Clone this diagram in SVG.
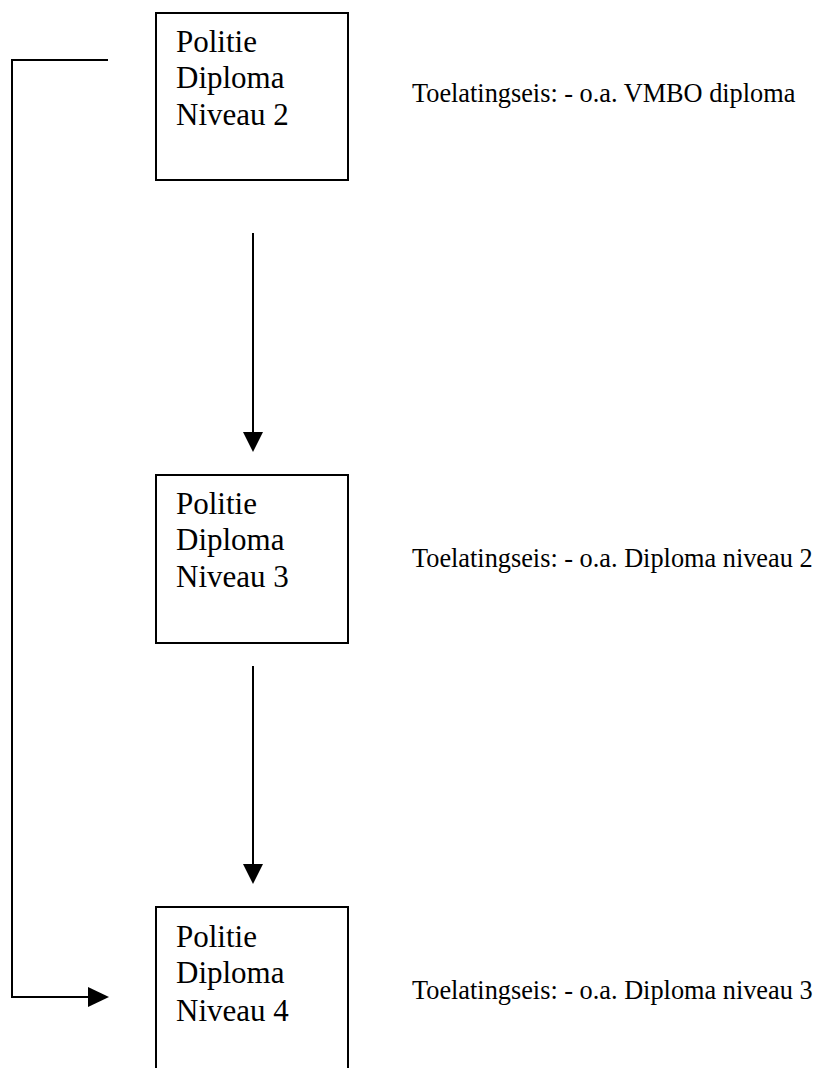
<svg xmlns="http://www.w3.org/2000/svg" width="821" height="1068" viewBox="0 0 821 1068">
<style>
.box{fill:#fff;stroke:#000;stroke-width:2}
.t{font-family:"Liberation Serif","Times New Roman",serif;font-size:31px;fill:#000}
.l{font-family:"Liberation Serif","Times New Roman",serif;font-size:26.3px;fill:#000}
.c{fill:none;stroke:#000;stroke-width:2}
.h{fill:#000;stroke:none}
</style>
<rect width="821" height="1068" fill="#fff"/>
<g id="connectors">
<polyline class="c" points="108,60 12,60 12,997 90,997"/>
<polygon class="h" points="88,987 109,997 88,1007"/>
<line class="c" x1="253" y1="233" x2="253" y2="434"/>
<polygon class="h" points="243,432 263,432 253,452"/>
<line class="c" x1="253" y1="666" x2="253" y2="866"/>
<polygon class="h" points="243,864 263,864 253,884"/>
</g>
<g id="node1">
<rect class="box" x="156" y="13" width="192" height="167"/>
<text class="t" x="176" y="52">Politie</text>
<text class="t" x="176" y="88">Diploma</text>
<text class="t" x="176" y="125">Niveau 2</text>
</g>
<g id="node2">
<rect class="box" x="156" y="475" width="192" height="168"/>
<text class="t" x="176" y="514">Politie</text>
<text class="t" x="176" y="550">Diploma</text>
<text class="t" x="176" y="587">Niveau 3</text>
</g>
<g id="node3">
<rect class="box" x="156" y="907" width="192" height="200"/>
<text class="t" x="176" y="947">Politie</text>
<text class="t" x="176" y="983">Diploma</text>
<text class="t" x="176" y="1021">Niveau 4</text>
</g>
<g id="label1"><text class="l" x="412" y="102">Toelatingseis: - o.a. VMBO diploma</text></g>
<g id="label2"><text class="l" x="412" y="567">Toelatingseis: - o.a. Diploma niveau 2</text></g>
<g id="label3"><text class="l" x="412" y="999">Toelatingseis: - o.a. Diploma niveau 3</text></g>
</svg>
